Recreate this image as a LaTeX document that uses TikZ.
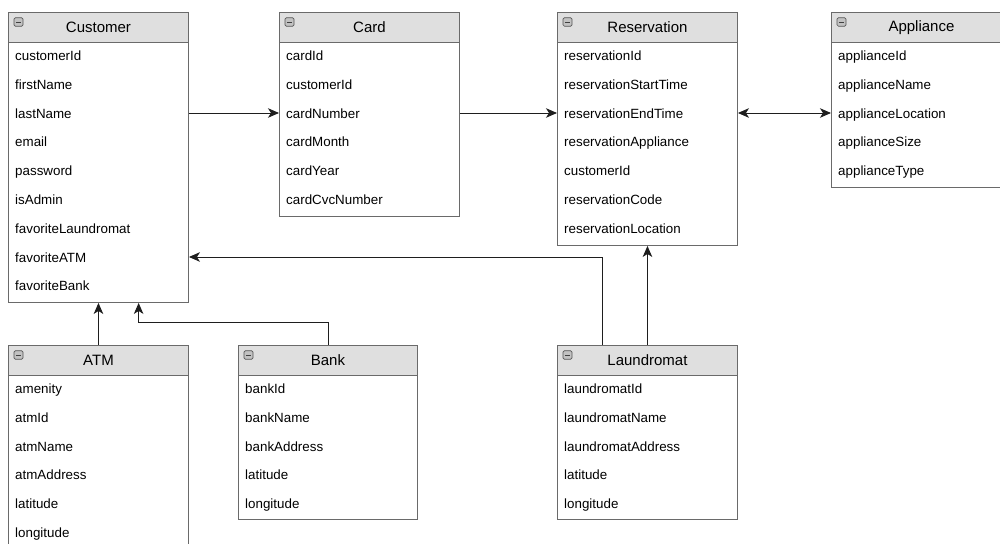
\documentclass[tikz,border=0pt]{standalone}
\usepackage{fontspec}
\setmainfont{Liberation Sans}
\usetikzlibrary{arrows.meta,calc}

\definecolor{boxline}{HTML}{6A6A6A}
\definecolor{hdrfill}{HTML}{DFDFDF}
\definecolor{wire}{HTML}{1E1E1E}

\tikzset{
  body/.style={draw=boxline, line width=0.8pt, fill=white, inner sep=0pt, anchor=north west},
  hdr/.style={draw=boxline, line width=0.8pt, fill=hdrfill, inner sep=0pt, anchor=north west,
    minimum height=30*0.03cm, font=\fontsize{12.8}{15}\selectfont, text=black},
  field/.style={anchor=base west, inner sep=0pt, font=\fontsize{11.4}{13}\selectfont, text=black},
  minusicon/.style={draw=boxline!80!black, fill=hdrfill!70!gray, rounded corners=1.2pt,
    line width=0.5pt, minimum width=9*0.03cm, minimum height=8.5*0.03cm, inner sep=0pt,
    path picture={\draw[line width=0.7pt, black!75]
      ([xshift=1.7pt]path picture bounding box.west) -- ([xshift=-1.7pt]path picture bounding box.east);}},
  conn/.style={draw=wire, line width=0.8pt, -{Stealth[length=11*0.03cm, width=9.5*0.03cm, inset=3*0.03cm]}},
  conn2/.style={draw=wire, line width=0.8pt, {Stealth[length=11*0.03cm, width=9.5*0.03cm, inset=3*0.03cm]}-{Stealth[length=11*0.03cm, width=9.5*0.03cm, inset=3*0.03cm]}},
}

% \entitybox{name}{left}{top}{width}{height}{title}{fields}
\newcommand{\entitybox}[7]{%
  \node[body, minimum width=#4*0.03cm, minimum height=#5*0.03cm] (#1) at (#2,#3) {};
  \node[hdr, minimum width=#4*0.03cm] (#1-h) at (#2,#3) {#6};
  \node[minusicon] (#1-m) at ({#2+10.5},{#3+10}) {};
  \foreach \fname [count=\k] in {#7} {
    \node[field] (#1-f\k) at ({#2+7},{#3+48.5+(\k-1)*28.8}) {\fname};
  }%
}

\begin{document}
\begin{tikzpicture}[x=0.03cm, y=-0.03cm]
  \clip (0,0) rectangle (1000,544);
  \fill[white] (0,0) rectangle (1000,544);

  % upper row of tables
  \entitybox{cust}{8}{12}{180}{290}{Customer}{customerId,firstName,lastName,email,password,isAdmin,favoriteLaundromat,favoriteATM,favoriteBank}
  \entitybox{card}{279}{12}{180}{204}{Card}{cardId,customerId,cardNumber,cardMonth,cardYear,cardCvcNumber}
  \entitybox{res}{557}{12}{180}{233}{Reservation}{reservationId,reservationStartTime,reservationEndTime,reservationAppliance,customerId,reservationCode,reservationLocation}
  \entitybox{app}{831}{12}{180}{175}{Appliance}{applianceId,applianceName,applianceLocation,applianceSize,applianceType}

  % lower row of tables
  \entitybox{atm}{8}{345}{180}{220}{ATM}{amenity,atmId,atmName,atmAddress,latitude,longitude}
  \entitybox{bank}{238}{345}{179}{174}{Bank}{bankId,bankName,bankAddress,latitude,longitude}
  \entitybox{laun}{557}{345}{180}{174}{Laundromat}{laundromatId,laundromatName,laundromatAddress,latitude,longitude}

  % relations between the tables (rows sit at fixed heights, so use those heights for y)
  \coordinate (y113) at (0,113);
  \coordinate (y257) at (0,257);
  \draw[conn] (y113 -| cust.east) -- (y113 -| card.west);
  \draw[conn] (y113 -| card.east) -- (y113 -| res.west);
  \draw[conn2] (y113 -| res.east) -- (y113 -| app.west);

  \draw[conn] (laun-h.north) -- (laun-h.north |- res.south);
  \coordinate (launL) at ($(laun-h.north west)!0.25!(laun-h.north east)$);
  \draw[conn] (launL) |- (y257 -| cust.east);

  \draw[conn] (atm-h.north) -- (atm-h.north |- cust.south);
  \coordinate (bankBend) at ($(bank-h.north)+(0,-23)$);
  \coordinate (custB) at ($(cust.south west)!0.722!(cust.south east)$);
  \draw[conn] (bank-h.north) -- (bankBend) -| (custB);
\end{tikzpicture}
\end{document}
